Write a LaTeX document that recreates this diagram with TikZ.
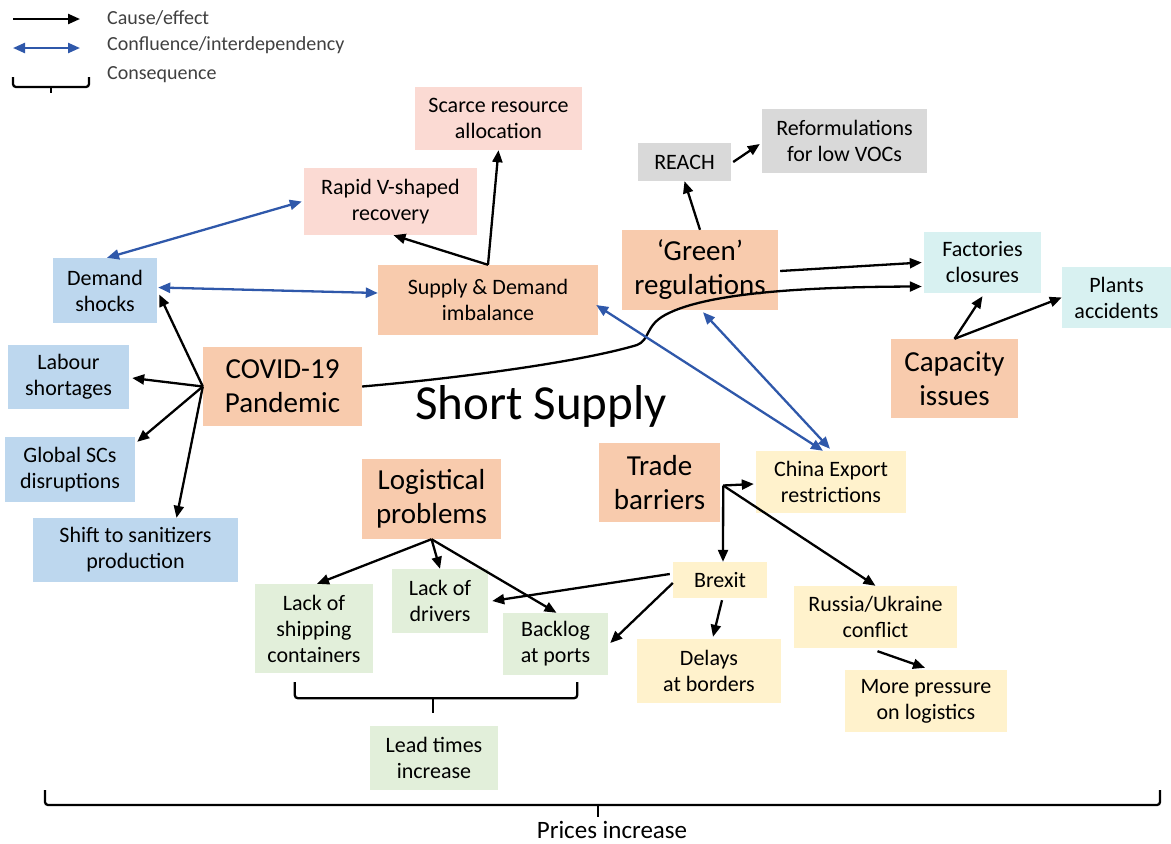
\documentclass[tikz,border=0pt]{standalone}
\usepackage{fontspec}
\setmainfont{Carlito}
\usetikzlibrary{arrows.meta,calc}
\definecolor{orng}{HTML}{F8CBAD}
\definecolor{bluebox}{HTML}{BDD7EE}
\definecolor{pinkc}{HTML}{FBDAD3}
\definecolor{greyc}{HTML}{D9D9D9}
\definecolor{cyanc}{HTML}{D8F1F1}
\definecolor{greenc}{HTML}{E2EFDA}
\definecolor{yelc}{HTML}{FFF2CC}
\definecolor{bluel}{RGB}{47,88,170}
\definecolor{legtext}{HTML}{404040}
\begin{document}
\begin{tikzpicture}[x=1pt,y=-1pt,
  bx/.style={inner sep=2pt, align=center, text=black, font=\fontsize{22}{26}\selectfont},
  big/.style={font=\fontsize{29}{34}\selectfont},
  cause/.style={line width=2.3pt, draw=black, -{Triangle[length=12pt,width=10pt]}},
  conf/.style={line width=2.3pt, draw=bluel, {Triangle[length=12pt,width=10pt]}-{Triangle[length=12pt,width=10pt]}},
  brk/.style={line width=2.3pt, draw=black, rounded corners=3pt},
  leg/.style={anchor=west, text=legtext, font=\fontsize{20}{24}\selectfont, inner sep=0pt}]
\useasboundingbox (0,0) rectangle (1171,844);

% legend
\coordinate (l1a) at (13,19); \coordinate (l1b) at (80,19);
\coordinate (l2a) at (13,48); \coordinate (l2b) at (80,48);
\draw[cause] (l1a) -- (l1b);
\draw[conf] (l2a) -- (l2b);
\draw[brk] (13,77) -- (13,87) -- (89,87) -- (89,77);
\draw[line width=2.3pt] (51,87) -- (51,93);
\node[leg] (lt1) at (107,18) {Cause/effect};
\node[leg] (lt2) at (107,45) {Confluence/interdependency};
\node[leg] (lt3) at (107,75) {Consequence};

% boxes
\node[bx, fill=pinkc, minimum width=167pt, minimum height=63pt] (scarce) at (498.5,118.5) {Scarce resource\\allocation};
\node[bx, fill=pinkc, minimum width=173pt, minimum height=67pt] (rapid) at (390.5,201.5) {Rapid V-shaped\\recovery};
\node[bx, fill=orng, minimum width=220pt, minimum height=70pt] (sd) at (488,300) {Supply \& Demand\\imbalance};
\node[bx, fill=greyc, minimum width=93pt, minimum height=38pt] (reach) at (684.5,162) {REACH};
\node[bx, fill=greyc, minimum width=165pt, minimum height=64pt] (reform) at (844.5,141) {Reformulations\\for low VOCs};
\node[bx, big, fill=orng, minimum width=156pt, minimum height=80pt] (green) at (700,270) {‘Green’\\regulations};
\node[bx, fill=cyanc, minimum width=117pt, minimum height=61pt] (factories) at (982.5,262.5) {Factories\\closures};
\node[bx, fill=cyanc, minimum width=109pt, minimum height=61pt] (plants) at (1116.5,297.5) {Plants\\accidents};
\node[bx, big, fill=orng, minimum width=127pt, minimum height=79pt] (capacity) at (954.5,378.5) {Capacity\\issues};
\node[bx, fill=bluebox, minimum width=104pt, minimum height=65pt] (demand) at (105,290.5) {Demand\\shocks};
\node[bx, fill=bluebox, minimum width=121pt, minimum height=64pt] (labour) at (68.5,377) {Labour\\shortages};
\node[bx, big, fill=orng, minimum width=159pt, minimum height=79pt] (covid) at (282.5,386.5) {COVID-19\\Pandemic};
\node[bx, fill=bluebox, minimum width=130pt, minimum height=65pt] (global) at (70,469.5) {Global SCs\\disruptions};
\node[bx, fill=bluebox, minimum width=205pt, minimum height=64pt] (shift) at (135.5,550) {Shift to sanitizers\\production};
\node[bx, big, fill=orng, minimum width=139pt, minimum height=80pt] (logistical) at (431.5,499) {Logistical\\problems};
\node[bx, fill=greenc, minimum width=118pt, minimum height=89pt] (ship) at (314,628.5) {Lack of\\shipping\\containers};
\node[bx, fill=greenc, minimum width=96pt, minimum height=64pt] (drivers) at (440,601) {Lack of\\drivers};
\node[bx, fill=greenc, minimum width=105pt, minimum height=62pt] (backlog) at (555.5,644) {Backlog\\at ports};
\node[bx, fill=greenc, minimum width=128pt, minimum height=64pt] (lead) at (434,758) {Lead times\\increase};
\node[bx, big, fill=orng, minimum width=121pt, minimum height=79pt] (trade) at (659.5,482.5) {Trade\\barriers};
\node[bx, fill=yelc, minimum width=150pt, minimum height=62pt] (china) at (831,482) {China Export\\restrictions};
\node[bx, fill=yelc, minimum width=94pt, minimum height=36pt] (brexit) at (720,580) {Brexit};
\node[bx, fill=yelc, minimum width=163pt, minimum height=62pt] (russia) at (875.5,617) {Russia/Ukraine\\conflict};
\node[bx, fill=yelc, minimum width=144pt, minimum height=64pt] (delays) at (709,671) {Delays\\at borders};
\node[bx, fill=yelc, minimum width=162pt, minimum height=62pt] (more) at (926,701) {More pressure\\on logistics};

\node[font=\fontsize{49}{58}\selectfont, inner sep=0pt] (short) at (541,406) {Short Supply};
\node[font=\fontsize{25}{30}\selectfont, inner sep=0pt] (prices) at (612,830) {Prices increase};

% cause arrows
\draw[cause] (sd.north) -- ($(rapid.south)+(3,0)$);
\draw[cause] (sd.north) -- (scarce.south);
\draw[cause] (green.north) -- (reach.south);
\draw[cause] ($(reach.east)+(2,0)$) -- ($(reform.west)+(-2,3)$);
\draw[cause] ($(green.east)+(2,1)$) -- ($(factories.west)+(-2,0)$);
\draw[cause] (covid.east) .. controls (460,378) and (580,362) .. (637,345)
  .. controls (650,340) and (645,326) .. (665,315)
  .. controls (700,296) and (780,287) .. ($(factories.west)+(-2,24)$);
\draw[cause] (capacity.north) -- ($(factories.south)+(0,3)$);
\draw[cause] (capacity.north) -- (plants.west);
\draw[cause] (covid.west) -- ($(demand.east)+(2,4)$);
\draw[cause] (covid.west) -- ($(labour.east)+(3,1)$);
\draw[cause] (covid.west) -- ($(global.north east)+(2,5)$);
\draw[cause] (covid.west) -- ($(shift.north)+(41,0)$);
\draw[cause] (logistical.south) -- ($(ship.north)+(3,0)$);
\draw[cause] (logistical.south) -- (drivers.north);
\draw[cause] (logistical.south) -- ($(backlog.north)+(1,0)$);
\draw[cause] ($(brexit.west)+(-3,-6)$) -- ($(drivers.east)+(4,0)$);
\draw[cause] ($(brexit.west)+(0,3)$) -- ($(backlog.east)+(2,-1)$);
\draw[cause] ($(brexit.south)+(2,2)$) -- ($(delays.north)+(4,-2)$);
\coordinate (tb) at ($(trade.east)+(3,3)$);
\draw[cause] (tb) -- ($(china.west)+(-2,2)$);
\draw[cause] (tb) -- ($(brexit.north)+(3,0)$);
\draw[cause] (tb) -- (russia.north);
\draw[cause] ($(russia.south)+(2,3)$) -- ($(more.north)+(-1,-2)$);

% confluence arrows
\draw[conf] ($(demand.north)+(2,0)$) -- ($(rapid.west)+(-2,0)$);
\draw[conf] ($(demand.east)+(1,-3)$) -- ($(sd.west)+(0,-7)$);
\draw[conf] ($(sd.east)+(-2,5)$) -- ($(china.north)+(-8,0)$);
\draw[conf] ($(green.south)+(3,2)$) -- ($(china.north)+(-1,-2)$);

% brackets
\draw[brk] ($(ship.south west)+(40,9)$) -- ($(ship.south west)+(40,25)$) -- ($(backlog.south east)+(-31,23)$) -- ($(backlog.south east)+(-31,7)$);
\draw[line width=2.3pt] (433,698) -- (433,713);
\draw[brk] (45,790) -- (45,805) -- (1160,805) -- (1160,790);
\draw[line width=2.3pt] (598,805) -- (598,817);
\end{tikzpicture}
\end{document}
